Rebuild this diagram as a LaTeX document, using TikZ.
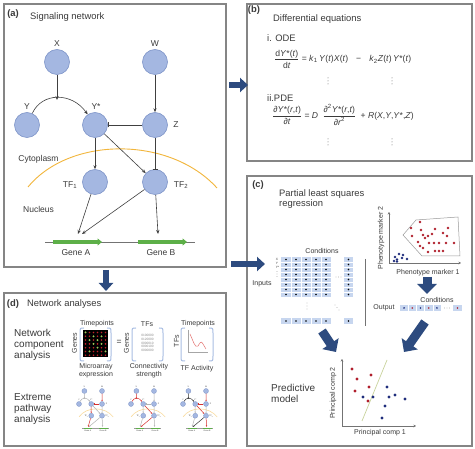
\documentclass[tikz,border=0pt]{standalone}
\usepackage{fontspec}
\setmainfont{Liberation Sans}
\usetikzlibrary{arrows.meta,calc}
\definecolor{nodefill}{HTML}{A4B7E1}
\definecolor{nodedraw}{HTML}{7F95C9}
\definecolor{arcor}{HTML}{F2B63C}
\definecolor{genegreen}{HTML}{5DAF48}
\definecolor{bigblue}{HTML}{2D4B7F}
\definecolor{dotred}{HTML}{B01E2C}
\definecolor{dotblue}{HTML}{1F2D7C}
\definecolor{cellblue}{HTML}{C7D6EF}
\definecolor{boxgray}{HTML}{858585}
\definecolor{txt}{HTML}{3A3A3A}
\definecolor{brk}{HTML}{A9BEE3}
\definecolor{pathred}{HTML}{D7312E}
\definecolor{lightline}{HTML}{C9D39C}
\definecolor{micred}{HTML}{C0202A}
\definecolor{micgreen}{HTML}{8AD85A}
\newcommand{\fTitle}{\fontsize{9.4}{10.5}\selectfont}
\newcommand{\fNode}{\fontsize{8.5}{10}\selectfont}
\newcommand{\fSmall}{\fontsize{7}{8}\selectfont}
\newcommand{\fBig}{\fontsize{10}{11}\selectfont}
\newcommand{\fTiny}{\fontsize{3.2}{3.6}\selectfont}
\newcommand{\fMini}{\fontsize{2}{2.2}\selectfont}
\newcommand{\fEq}{\fontsize{8.6}{10}\selectfont}
\tikzset{
  panel/.style={draw=boxgray, line width=1.1pt},
  lab/.style={inner sep=0pt, text=txt},
  net/.style={circle, fill=nodefill, draw=nodedraw, line width=0.6pt, minimum size=25pt, inner sep=0pt},
  edge/.style={draw=black!75, line width=0.6pt, -{Stealth[length=4pt,width=3.2pt]}},
  inh/.style={draw=black!75, line width=0.6pt, -{Bar[width=5pt]}},
  gene/.style={draw=genegreen, line width=3.6pt, -{Triangle[length=4.5pt,width=7pt]}},
  bigarr/.style={draw=bigblue, line width=6pt, -{Triangle[length=8pt,width=14pt]}},
  bigarrb/.style={draw=bigblue, line width=9pt, -{Triangle[length=10pt,width=19pt]}},
  axis/.style={draw=black!55, line width=0.5pt, {Stealth[length=2.5pt,width=2.5pt]}-{Stealth[length=2.5pt,width=2.5pt]}},
  minin/.style={circle, fill=nodefill, draw=nodedraw, line width=0.3pt, minimum size=5pt, inner sep=0pt},
  minie/.style={line width=0.5pt, -{Stealth[length=1.5pt,width=1.4pt]}},
  minih/.style={line width=0.5pt, -{Bar[width=1.6pt]}},
}
\newcommand{\vdotsat}[2]{\foreach \k in {0,1,2} \fill[black!60] (#1,{#2-3+\k*3}) circle (0.5);}
% mini network: #1 prefix, #2 x-offset, #3 y-offset
\newcommand{\drawmini}[3]{%
\begin{scope}[shift={(#2,#3)}, xscale=0.18, yscale=0.206, shift={(-27,-62)}]
  \draw[arcor!50, line width=0.6pt] (28,187) .. controls (70,136) and (170,136) .. (217,188);
  \draw[black!40, line width=0.3pt] (45,242) -- (195,242);
  \draw[genegreen, line width=1.1pt] (53,242) -- (102,242);
  \draw[genegreen, line width=1.1pt] (138,242) -- (187,242);
  \node[minin] (#1X) at (57,62) {};
  \node[minin] (#1W) at (155,62) {};
  \node[minin] (#1Y) at (27,125) {};
  \node[minin] (#1S) at (95,125) {};
  \node[minin] (#1Z) at (155,125) {};
  \node[minin] (#1A) at (95,182) {};
  \node[minin] (#1B) at (155,182) {};
  \node[lab, font=\fMini] (#1lx) at (57,42) {X};
  \node[lab, font=\fMini] (#1lw) at (155,42) {W};
  \node[lab, font=\fMini] (#1ly) at (27,105) {Y};
  \node[lab, font=\fMini] (#1ls) at (95,105) {Y*};
  \node[lab, font=\fMini] (#1lz) at (180,125) {Z};
  \node[lab, font=\fMini] (#1la) at (68,184) {TF\textsubscript{1}};
  \node[lab, font=\fMini] (#1lb) at (184,184) {TF\textsubscript{2}};
  \node[lab, font=\fMini] (#1ga) at (76,256) {Gene A};
  \node[lab, font=\fMini] (#1gb) at (161,256) {Gene B};
  \coordinate (#1xm) at (57,100);
  \coordinate (#1g1) at (78,236);
  \coordinate (#1g2) at (82,236);
  \coordinate (#1g3) at (158,236);
  \draw[minie, draw=ea] (#1X) -- (#1xm);
  \draw[minie, draw=eb] (#1Y) .. controls (42,92) and (72,92) .. (#1S);
  \draw[minie, draw=ec] (#1W) -- (#1Z);
  \draw[minih, draw=ed] (#1Z) -- (#1S);
  \draw[minie, draw=ee] (#1S) -- (#1A);
  \draw[minie, draw=ef] (#1S) -- (#1B);
  \draw[minih, draw=eg] (#1Z) -- (#1B);
  \draw[minie, draw=eh] (#1A) -- (#1g1);
  \draw[minie, draw=ei] (#1B) -- (#1g2);
  \draw[minie, draw=ej] (#1B) -- (#1g3);
\end{scope}}
\begin{document}
\begin{tikzpicture}[x=1pt,y=-1pt]
\useasboundingbox (0,0) rectangle (475,449);
\fill[white] (0,0) rectangle (475,449);
% ---------- panels
\draw[panel] (4,4) rectangle (226,267);
\draw[panel] (247,4) rectangle (472,161);
\draw[panel] (247,176) rectangle (472,446);
\draw[panel] (4,293) rectangle (226,446);

% ---------- (a)
\node[lab, font=\fTitle\bfseries] (la) at (13,14) {(a)};
\node[lab, font=\fTitle, anchor=west] (ta) at (30,17) {Signaling network};
\draw[arcor, line width=0.9pt] (28,187) .. controls (70,136) and (170,136) .. (217,188);
\node[lab, font=\fNode] (cyt) at (38.5,159) {Cytoplasm};
\node[lab, font=\fNode] (nuc) at (38.5,209) {Nucleus};
\node[net] (X) at (57,62) {};
\node[net] (W) at (155,62) {};
\node[net] (Y) at (27,125) {};
\node[net] (Ys) at (95,125) {};
\node[net] (Z) at (155,125) {};
\node[net] (T1) at (95,182) {};
\node[net] (T2) at (155,182) {};
\node[lab, font=\fNode] (lX) at (57,44) {X};
\node[lab, font=\fNode] (lW) at (155,44) {W};
\node[lab, font=\fNode] (lY) at (27,107) {Y};
\node[lab, font=\fNode] (lYs) at (96,107) {Y*};
\node[lab, font=\fNode] (lZ) at (176,125) {Z};
\node[lab, font=\fNode] (lT1) at (70,185) {TF\textsubscript{1}};
\node[lab, font=\fNode] (lT2) at (181,185) {TF\textsubscript{2}};
\coordinate (xm) at (57,100);
\coordinate (gA1) at (78,234);
\coordinate (gA2) at (82,234);
\coordinate (gB) at (158,234);
\draw[edge] (X) -- (xm);
\draw[edge] (Y) .. controls (42,92) and (72,92) .. (Ys);
\draw[edge] (W) -- (Z);
\draw[inh] (Z) -- (Ys);
\draw[edge] (Ys) -- (T1);
\draw[edge] (Ys) -- (T2);
\draw[inh] (Z) -- (T2);
\draw[edge] (T1) -- (gA1);
\draw[edge] (T2) -- (gA2);
\draw[edge] (T2) -- (gB);
\draw[black!55, line width=0.6pt] (45,242) -- (195,242);
\draw[gene] (53,242) -- (102,242);
\draw[gene] (138,242) -- (187,242);
\node[lab, font=\fNode] (gnA) at (76,253) {Gene A};
\node[lab, font=\fNode] (gnB) at (161,253) {Gene B};

% ---------- (b)
\node[lab, font=\fTitle\bfseries] (lb) at (254,10) {(b)};
\node[lab, font=\fTitle, anchor=west] (tb) at (273,19) {Differential equations};
\node[lab, font=\fTitle, anchor=west] (ode) at (267,38) {i. ODE};
\node[lab, font=\fEq, anchor=west] (eq1) at (274,59) {$\displaystyle\frac{\mbox{\fEq d\textit{Y}*(\textit{t})}}{\mbox{\fEq d\textit{t}}}$ = \textit{k}\textsubscript{1}\,\textit{Y}(\textit{t})\textit{X}(\textit{t})\hspace{8pt}−\hspace{8pt}\textit{k}\textsubscript{2}\textit{Z}(\textit{t})\,\textit{Y}*(\textit{t})};
\vdotsat{328}{81}
\vdotsat{392}{81}
\node[lab, font=\fTitle, anchor=west] (pde) at (267,98) {ii.PDE};
\node[lab, font=\fEq, anchor=west] (eq2) at (272,115) {$\displaystyle\frac{\mbox{\fEq ∂\textit{Y}*(\textit{r},\textit{t})}}{\mbox{\fEq ∂\textit{t}}}$ = \textit{D}\hspace{2pt} $\displaystyle\frac{\mbox{\fEq ∂\textsuperscript{2}\textit{Y}*(\textit{r},\textit{t})}}{\mbox{\fEq ∂\textit{r}\textsuperscript{2}}}$\hspace{2pt} + \textit{R}(\textit{X},\textit{Y},\textit{Y}*,\textit{Z})};
\vdotsat{328}{142}
\vdotsat{392}{142}

% ---------- (c)
\node[lab, font=\fTitle\bfseries] (lc) at (258,185) {(c)};
\node[lab, font=\fTitle, anchor=west, align=left] (tc) at (279,199) {Partial least squares\\regression};
\node[lab, font=\fSmall] (cond1) at (322,251) {Conditions};
\node[lab, font=\fSmall] (inp) at (262,284) {Inputs};
\node[lab, font=\fTiny] (rX) at (277,259) {X};
\node[lab, font=\fTiny] (rY) at (277,263) {Y};
\node[lab, font=\fTiny] (rYs) at (277.5,267) {Y*};
\foreach \k in {0,1,2} \fill[black!50] (277,{271.5+\k*2.5}) circle (0.35);
\fill[cellblue] (281,257) rectangle (331,297);
\fill[cellblue] (344,257) rectangle (353,297);
\fill[cellblue] (281,318) rectangle (331,324);
\fill[cellblue] (344,318) rectangle (353,324);
\foreach \k in {1,...,4} {
  \draw[white, line width=0.5pt] ({281+\k*10},257) -- ({281+\k*10},297);
  \draw[white, line width=0.5pt] ({281+\k*10},318) -- ({281+\k*10},324);}
\foreach \k in {1,...,7} {
  \draw[white, line width=0.5pt] (281,{257+\k*5}) -- (331,{257+\k*5});
  \draw[white, line width=0.5pt] (344,{257+\k*5}) -- (353,{257+\k*5});}
\foreach \i in {0,...,4} {
  \foreach \j in {0,...,7} \fill[black] ({286+\i*10},{259.5+\j*5}) circle (0.9);
  \fill[black] ({286+\i*10},321) circle (0.9);}
\foreach \j in {0,...,7} \fill[black] (348.5,{259.5+\j*5}) circle (0.9);
\fill[black] (348.5,321) circle (0.9);
\foreach \k in {0,1,2} {
  \fill[black!50] ({336+\k*2.5},277) circle (0.35);
  \fill[black!50] (307,{303+\k*3}) circle (0.35);
  \fill[black!50] ({335+\k*2},{305+\k*2.5}) circle (0.35);}
\draw[black!55, line width=0.6pt] (365,259) -- (365,326);
% phenotype scatter
\draw[axis] (389,212) -- (389,263) -- (461,263);
\node[lab, font=\fSmall, rotate=90] (pm2) at (381,238) {Phenotype marker 2};
\node[lab, font=\fSmall] (pm1) at (428,273) {Phenotype marker 1};
\draw[black!40, line width=0.5pt] (403,235) -- (416,220) -- (458,217) -- (460,256) -- (422,256) -- cycle;
\foreach \p in {(420,222),(411,228),(421,230),(435,229),(412,236),(423,235),(428,236),(432,234),(443,233),(447,236),(418,242),(429,243),(434,243),(439,243),(446,243),(454,243),(420,246),(423,248),(428,252),(435,251),(439,251),(443,251),(448,228),(425,238)}
  \fill[dotred] \p circle (1.3);
\foreach \p in {(395,257),(397,259.5),(399,254),(402,258),(403,255),(407,259),(394,261),(397,261.5)}
  \fill[dotblue] \p circle (1.3);
% output
\node[lab, font=\fSmall] (cond2) at (437,300) {Conditions};
\node[lab, font=\fSmall] (outp) at (384,308) {Output};
\fill[cellblue] (400,305) rectangle (441,311);
\fill[cellblue] (453,305) rectangle (462,311);
\foreach \k in {1,...,4} \draw[white, line width=0.5pt] ({400+\k*8.2},305) -- ({400+\k*8.2},311);
\foreach \k/\c in {0/dotblue,1/dotred,2/dotblue,3/dotred,4/dotblue}
  \fill[\c] ({404.1+\k*8.2},308) circle (0.9);
\fill[dotred] (457.5,308) circle (0.9);
\foreach \k in {0,1,2} \fill[black!50] ({444.5+\k*2.5},308) circle (0.35);
% predictive model
\node[lab, font=\fBig, anchor=west, align=left] (pmod) at (271,393.5) {Predictive\\model};
\draw[axis] (342,359) -- (342,426) -- (416,426);
\node[lab, font=\fSmall, rotate=90] (pc2) at (333,393) {Principal comp 2};
\node[lab, font=\fSmall] (pc1) at (380,433) {Principal comp 1};
\draw[lightline, line width=0.7pt] (362,421) -- (387,360);
\foreach \p in {(352,369),(357,379),(371,375),(355,391),(369,387),(368,401)}
  \fill[dotred] \p circle (1.7);
\foreach \p in {(363,397),(373,397),(387,387),(389,397),(395,395),(405,399),(385,406),(382,418)}
  \fill[dotblue] \p circle (1.7);

% ---------- big arrows
\coordinate (ab1) at (229,85);  \coordinate (ab2) at (248,85);
\coordinate (ac1) at (231,264); \coordinate (ac2) at (265,264);
\coordinate (ad1) at (106,270); \coordinate (ad2) at (106,291);
\coordinate (po1) at (427,277); \coordinate (po2) at (427,294);
\coordinate (lm1) at (322,331); \coordinate (lm2) at (336,352);
\coordinate (rm1) at (425,322); \coordinate (rm2) at (404,352);
\draw[bigarr] (ab1) -- (ab2);
\draw[bigarr] (ac1) -- (ac2);
\draw[bigarr] (ad1) -- (ad2);
\draw[bigarrb] (po1) -- (po2);
\draw[bigarrb] (lm1) -- (lm2);
\draw[bigarrb] (rm1) -- (rm2);

% ---------- (d)
\node[lab, font=\fTitle\bfseries] (ld) at (13,304) {(d)};
\node[lab, font=\fTitle, anchor=west] (td) at (27,304) {Network analyses};
\node[lab, font=\fBig, anchor=west, align=left] (nca) at (14,345) {Network\\component\\analysis};
\node[lab, font=\fBig, anchor=west, align=left] (epa) at (14,409) {Extreme\\pathway\\analysis};
% matrix 1
\node[lab, font=\fSmall] (tp1) at (97,324) {Timepoints};
\node[lab, font=\fSmall, rotate=90] (gn1) at (74.5,343) {Genes};
\fill[black] (83,330) rectangle (108,357);
\foreach \i in {0,...,5} \foreach \j in {0,...,6}
  \fill[micred] ({85.5+\i*4},{332.5+\j*3.8}) circle (0.9);
\foreach \i/\j in {0/0,2/1,4/1,1/2,3/2,2/3,4/3,3/4,5/5,1/5}
  \fill[micgreen] ({85.5+\i*4},{332.5+\j*3.8}) circle (1.0);
\draw[brk, line width=1pt] (84,328) .. controls (80,328) .. (80,333) -- (80,356) .. controls (80,361) .. (84,361);
\draw[brk, line width=1pt] (107,328) .. controls (111,328) .. (111,333) -- (111,356) .. controls (111,361) .. (107,361);
\node[lab, font=\fSmall, align=center] (mic) at (96,371) {Microarray\\expression};
\node[lab, font=\fNode] (eqs) at (119,342) {=};
% matrix 2
\node[lab, font=\fSmall] (tf2) at (147,324) {TFs};
\node[lab, font=\fSmall, rotate=90] (gn2) at (126.5,343) {Genes};
\draw[brk, line width=1pt] (136,328) .. controls (132,328) .. (132,333) -- (132,356) .. controls (132,361) .. (136,361);
\draw[brk, line width=1pt] (159,328) .. controls (163,328) .. (163,333) -- (163,356) .. controls (163,361) .. (159,361);
\node[lab, font=\fTiny, text=black!45, align=center] (dig) at (147.5,343) {0100000\\0120000\\0000010\\0000100\\0000000};
\node[lab, font=\fSmall, align=center] (con) at (149,371) {Connectivity\\strength};
% matrix 3
\node[lab, font=\fSmall] (tp3) at (198,324) {Timepoints};
\node[lab, font=\fSmall, rotate=90] (tf3) at (176.5,341) {TFs};
\draw[brk, line width=1pt] (185,328) .. controls (181,328) .. (181,333) -- (181,356) .. controls (181,361) .. (185,361);
\draw[brk, line width=1pt] (209,328) .. controls (213,328) .. (213,333) -- (213,356) .. controls (213,361) .. (209,361);
\draw[black!35, line width=0.4pt] (188,330) -- (188,352) -- (208,352);
\draw[pathred!70, line width=0.5pt] (190,334) .. controls (193,340) and (195,349) .. (198,346) .. controls (200,343) and (201,340) .. (203,344) -- (206,349);
\node[lab, font=\fSmall] (tfa) at (197,369) {TF Activity};
% extreme pathways
\colorlet{ea}{black!30}\colorlet{eb}{black!30}\colorlet{ec}{pathred}\colorlet{ed}{pathred}\colorlet{ee}{pathred}
\colorlet{ef}{black!30}\colorlet{eg}{black!30}\colorlet{eh}{pathred}\colorlet{ei}{black!30}\colorlet{ej}{black!30}
\drawmini{ma}{79}{391}
\colorlet{ea}{pathred}\colorlet{eb}{pathred}\colorlet{ec}{black!30}\colorlet{ed}{black!30}\colorlet{ee}{black!30}
\colorlet{ef}{pathred}\colorlet{eg}{black!30}\colorlet{eh}{black!30}\colorlet{ei}{pathred}\colorlet{ej}{black!30}
\drawmini{mb}{131}{391}
\colorlet{ea}{black!80}\colorlet{eb}{black!80}\colorlet{ec}{pathred}\colorlet{ed}{pathred}\colorlet{ee}{black!30}
\colorlet{ef}{pathred}\colorlet{eg}{black!30}\colorlet{eh}{black!30}\colorlet{ei}{black!80}\colorlet{ej}{pathred}
\drawmini{mc}{183}{391}
\end{tikzpicture}
\end{document}
